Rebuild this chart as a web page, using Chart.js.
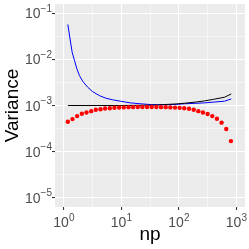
<!DOCTYPE html>
<html><head><meta charset="utf-8">
<script src="https://cdn.jsdelivr.net/npm/chart.js@4/dist/chart.umd.min.js"></script>
<style>html,body{margin:0;padding:0;background:#fff}#c{display:block}</style>
</head><body>
<canvas id="c" width="249" height="249"></canvas>
<script>
// ---- data ----
const redX = [1.17,1.41,1.70,2.05,2.47,2.98,3.59,4.33,5.21,6.29,7.57,9.13,11.0,13.3,16.0,19.3,23.2,28.0,33.7,40.6,48.9,59.0,71.1,85.7,103,124,150,181,218,262,316,381,459,553,667,804];
const redY = [4.46e-4,5.07e-4,5.89e-4,6.63e-4,7.07e-4,7.54e-4,8.09e-4,8.32e-4,8.62e-4,8.75e-4,8.92e-4,9.06e-4,9.1e-4,9.2e-4,9.2e-4,9.3e-4,9.3e-4,9.3e-4,9.3e-4,9.3e-4,9.2e-4,9.2e-4,9.1e-4,9.0e-4,8.9e-4,8.75e-4,8.5e-4,8.1e-4,7.54e-4,7.07e-4,6.52e-4,5.89e-4,5.18e-4,4.25e-4,3.09e-4,1.69e-4];
const blueX = [1.17,1.28,1.39,1.53,1.68,1.87,2.13,2.6,3.16,4.13,5.36,7.0,9.6,14.3,21.3,31.6,47,70,127,281,621,815];
const blueY = [0.0571,0.0276,0.0143,0.00942,0.00625,0.00442,0.00333,0.00248,0.0020,0.00164,0.00144,0.00133,0.00124,0.00114,0.00109,0.00105,0.00104,0.00104,0.00109,0.00114,0.00124,0.00139];
const blackX = [1.17,10,40,57,90,127,200,281,400,621,815];
const blackY = [0.001,0.001,0.00102,0.00105,0.00108,0.00112,0.00119,0.00126,0.00136,0.00151,0.00178];
const xTickExp = [0,1,2,3];
const yTickExp = [-5,-4,-3,-2,-1];
const xTitle = "np";
const yTitle = "Variance";

const FONT = "'Liberation Sans', Arial, sans-serif";
const pts = (xs, ys) => xs.map((x, i) => ({x: x, y: ys[i]}));
const SUP = {'-':'\u2212'};

function gridTicks(exps) {
  const t = [];
  exps.forEach((e, i) => {
    t.push({value: Math.pow(10, e), major: true});
    if (i < exps.length - 1) t.push({value: Math.pow(10, e + 0.5), major: false});
  });
  t.unshift({value: Math.pow(10, exps[0] - 0.5), major: false});
  t.push({value: Math.pow(10, exps[exps.length-1] + 0.5), major: false});
  return t;
}

const gridOpts = {
  color: c => '#FFFFFF',
  lineWidth: c => (c.tick && c.tick.major) ? 1.07 : 0.53,
  tickColor: c => (c.tick && c.tick.major) ? '#333333' : 'rgba(0,0,0,0)',
  tickLength: 3,
  drawTicks: true
};

const bgPlugin = {
  id: 'bg',
  beforeDraw(chart) {
    const {ctx, chartArea: a} = chart;
    ctx.save();
    ctx.fillStyle = '#EBEBEB';
    ctx.fillRect(a.left, a.top, a.right - a.left, a.bottom - a.top);
    ctx.restore();
  },
  afterDraw(chart) {
    const ctx = chart.ctx;
    const xs = chart.scales.x, ys = chart.scales.y;
    ctx.save();
    ctx.fillStyle = '#4D4D4D';
    const baseF = '14px ' + FONT, supF = '10px ' + FONT;
    function measure(e) {
      ctx.font = baseF; const w1 = ctx.measureText('10').width;
      const s = String(e).replace('-', SUP['-']);
      ctx.font = supF; const w2 = ctx.measureText(s).width;
      return {w1, w2, s};
    }
    ctx.textAlign = 'left';
    ctx.textBaseline = 'alphabetic';
    yTickExp.forEach(e => {
      const py = ys.getPixelForValue(Math.pow(10, e));
      const m = measure(e);
      const x0 = 52 - m.w1 - m.w2;
      ctx.font = baseF; ctx.fillText('10', x0, py + 5);
      ctx.font = supF; ctx.fillText(m.s, x0 + m.w1, py - 1.5);
    });
    xTickExp.forEach(e => {
      const px = xs.getPixelForValue(Math.pow(10, e));
      const m = measure(e);
      const x0 = px - (m.w1 + m.w2) / 2;
      ctx.font = baseF; ctx.fillText('10', x0, 227);
      ctx.font = supF; ctx.fillText(m.s, x0 + m.w1, 221);
    });
    ctx.fillStyle = '#000000';
    ctx.font = '19px ' + FONT;
    ctx.textAlign = 'center';
    const a = chart.chartArea;
    ctx.fillText(xTitle, (a.left + a.right) / 2, 240);
    ctx.translate(18, (a.top + a.bottom) / 2);
    ctx.rotate(-Math.PI / 2);
    ctx.fillText(yTitle, 0, 0);
    ctx.restore();
  }
};

new Chart(document.getElementById('c'), {
  type: 'scatter',
  data: {
    datasets: [
      {data: pts(redX, redY), showLine: false, pointRadius: 2.2, pointBackgroundColor: '#FF0000', pointBorderWidth: 0, borderColor: '#FF0000'},
      {data: pts(blackX, blackY), showLine: true, pointRadius: 0, borderColor: '#000000', borderWidth: 1, fill: false},
      {data: pts(blueX, blueY), showLine: true, pointRadius: 0, borderColor: '#0000FF', borderWidth: 1, fill: false}
    ]
  },
  options: {
    responsive: false,
    animation: false,
    devicePixelRatio: 1,
    layout: {padding: {left: 0, right: 2, top: 3, bottom: 0}},
    plugins: {legend: {display: false}, tooltip: {enabled: false}},
    scales: {
      x: {
        type: 'logarithmic',
        min: Math.pow(10, -0.15), max: Math.pow(10, 3.15),
        afterBuildTicks: s => { s.ticks = gridTicks(xTickExp); },
        afterFit: s => { s.height = 42; },
        ticks: {display: false},
        grid: gridOpts,
        border: {display: false}
      },
      y: {
        type: 'logarithmic',
        min: Math.pow(10, -5.2), max: Math.pow(10, -0.8),
        afterBuildTicks: s => { s.ticks = gridTicks(yTickExp); },
        afterFit: s => { s.width = 55; },
        ticks: {display: false},
        grid: gridOpts,
        border: {display: false}
      }
    }
  },
  plugins: [bgPlugin]
});
</script>
</body></html>
